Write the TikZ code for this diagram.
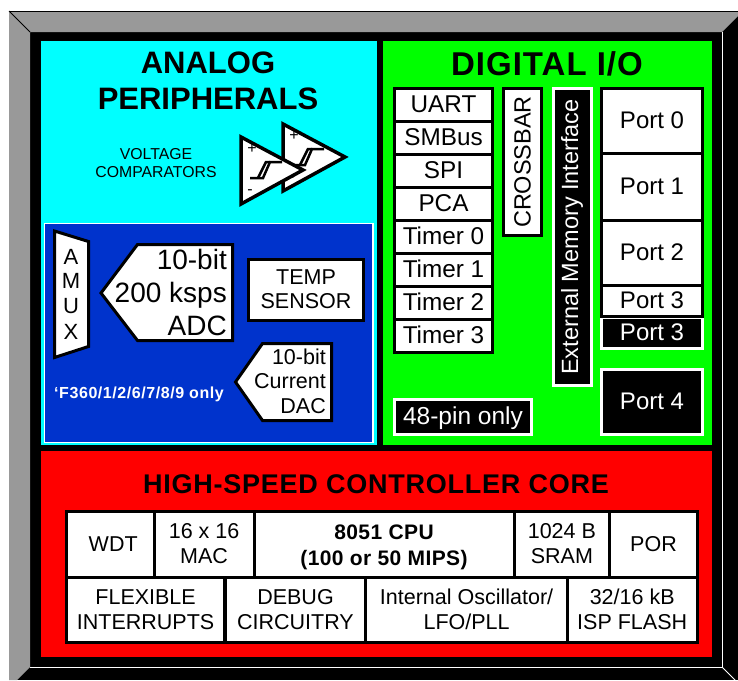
\documentclass[tikz,border=0pt]{standalone}
\usepackage{fontspec}
\setmainfont{Liberation Sans}
\usetikzlibrary{positioning}
\definecolor{panelcyan}{RGB}{0,255,255}
\definecolor{adcblue}{RGB}{0,51,204}
\tikzstyle{cell}=[rectangle,draw=black,line width=3pt,fill=white,inner sep=0pt,align=center]
\tikzstyle{darkcell}=[rectangle,draw=white,line width=3pt,fill=black,text=white,inner sep=0pt,align=center]
\tikzstyle{rowtext}=[text height=17pt,text depth=2pt]
\tikzstyle{block}=[draw=black,line width=3pt,fill=white,line join=miter]
\tikzstyle{caption}=[inner sep=0pt,align=center]
\tikzstyle{sign}=[inner sep=0pt,font=\fontsize{16}{18}\selectfont]
\newcommand{\fs}[2]{\fontsize{#1}{#2}\selectfont}
\newcommand{\spaced}[1]{\addfontfeature{LetterSpace=#1}}
\begin{document}
\begin{tikzpicture}[x=1pt,y=-1pt]
\useasboundingbox (0,0) rectangle (738,680);

%Frame
\fill[black] (9,11) rectangle (738,680);
\fill[black!40] (9,11) -- (738,11) -- (738,16) -- (722,32) -- (30,32) -- (30,667) -- (17,680) -- (9,680) -- cycle;
\draw[black,line width=0.8pt] (9,11) -- (738,11);
\draw[black,line width=0.8pt] (9,11) -- (30,32);
\draw[white,line width=0.8pt] (30,667) -- (722,667) -- (722,32);
\draw[white,line width=0.8pt] (722,667) -- (738,683);

%Panels
\fill[panelcyan] (41,41) rectangle (377,445);
\fill[green] (383,41) rectangle (712,445);
\fill[red] (41,451) rectangle (712,657);
\fill[adcblue,draw=white,line width=1.5pt] (44.5,223.5) rectangle (373,442.5);

%Titles
\node[caption,font=\bfseries\fs{31}{36}] (analog) at (208,81) {ANALOG\\PERIPHERALS};
\node[caption,font=\bfseries\fs{33}{38}\spaced{3}] (digital) at (547,64) {DIGITAL I/O};
\node[caption,font=\bfseries\fs{27}{32}\spaced{2.8}] (core) at (376,484) {HIGH-SPEED CONTROLLER CORE};
\node[caption,font=\fs{15.8}{18}] (volt) at (156,163) {VOLTAGE\\COMPARATORS};

%Comparators
\foreach \ox/\oy/\name in {42/-13/back, 0/0/front} {
  \begin{scope}[shift={(\ox,\oy)}]
    \draw[block,line width=3.5pt] (241,137) -- (303,170) -- (241,204) -- cycle;
    \draw[black,line width=2.5pt] (250,178) -- (263,178) -- (270,162) -- (282,162);
    \draw[black,line width=2.5pt] (258,178) -- (266,162) -- (270,162);
    \node[sign] (\name plus) at (252,149) {+};
    \node[sign] (\name minus) at (250,192) {-};
  \end{scope}
}

%Analog blocks
\draw[block] (54.5,231) -- (88.5,241.5) -- (88.5,346.5) -- (54.5,357.5) -- cycle;
\draw[block] (232.5,244.5) -- (137.5,244.5) -- (101,293) -- (137.5,340.5) -- (232.5,340.5) -- cycle;
\draw[block] (331.5,343.5) -- (262.5,343.5) -- (235.5,382) -- (262.5,420.5) -- (331.5,420.5) -- cycle;
\foreach \pos/\name/\label in {{(71,257)/mxa/A},{(71,281)/mxm/M},{(71,306)/mxu/U},{(71,332)/mxx/X}}
  \node[caption,font=\fs{22}{25}] (\name) at \pos {\label};
\node[caption,align=right,anchor=east,font=\fs{28}{33}] (adc) at (227,292) {10-bit\\200 ksps\\ADC};
\node[cell,minimum width=115pt,minimum height=61pt,font=\fs{21.5}{24}] (temp) at (306,289.5) {TEMP\\SENSOR};
\node[caption,align=right,anchor=east,font=\fs{21.5}{24.5}] (dac) at (326,381) {10-bit\\Current\\DAC};
\node[caption,text=white,font=\bfseries\fs{16}{18}\spaced{3.5}] (only) at (139,394) {‘F360/1/2/6/7/8/9 only};

%Digital I/O
\foreach \pos/\name/\label in {{(443.5,104.5)/uart/UART},{(443.5,137.5)/smbus/SMBus},{(443.5,170.5)/spi/SPI},{(443.5,203.5)/pca/PCA},{(443.5,236.5)/tzero/Timer 0},{(443.5,269.5)/tone/Timer 1},{(443.5,302.5)/ttwo/Timer 2},{(443.5,335.5)/tthree/Timer 3}}
  \node[cell,rowtext,minimum width=98pt,minimum height=33pt,font=\fs{24.3}{28}] (\name) at \pos {\label};
\node[cell,minimum width=38pt,minimum height=147pt,font=\fs{23.5}{28}] (xbar) at (522.5,162) {\rotatebox{90}{CROSSBAR}};
\node[darkcell,minimum width=38pt,minimum height=297pt,font=\fs{23.5}{28}] (emif) at (572,237) {\rotatebox{90}{External Memory Interface}};
\node[darkcell,rowtext,minimum width=101pt,minimum height=31pt,font=\fs{24}{28}] (pthreeb) at (652,333) {Port 3};
\foreach \pos/\name/\hgt/\label in {{(652,121.2)/pzero/65.5/Port 0},{(652,187.1)/pone/66.3/Port 1},{(652,253.1)/ptwo/65.7/Port 2},{(652,301.2)/pthree/30.5/Port 3}}
  \node[cell,rowtext,minimum width=101pt,minimum height=\hgt pt,font=\fs{24}{28}] (\name) at \pos {\label};
\node[darkcell,rowtext,minimum width=101pt,minimum height=65pt,font=\fs{24}{28}] (pfour) at (652,402) {Port 4};
\node[darkcell,rowtext,minimum width=137pt,minimum height=35pt,font=\fs{24.5}{28}] (pin) at (463,417) {48-pin only};

%Core
\foreach \pos/\name/\wid/\label in {{(110.2,544.7)/wdt/87.8/~WDT},{(204.1,544.7)/mac/99.8/{16 x 16\\MAC}},{(561.9,544.7)/sram/95.7/{1024 B\\SRAM}},{(653.5,544.7)/por/87.6/POR}}
  \node[cell,text depth=2pt,minimum width=\wid pt,minimum height=65.5pt,font=\fs{21.5}{25}] (\name) at \pos {\label};
\node[cell,minimum width=260pt,minimum height=65.5pt,font=\bfseries\fs{21}{26}\spaced{2}] (cpu) at (384,544.7) {\rule{0pt}{20pt}8051 CPU\\(100 or 50 MIPS)};
\foreach \pos/\name/\wid/\label in {{(145.6,610.2)/flex/158.7/{FLEXIBLE\\INTERRUPTS}},{(295.5,610.2)/debug/141/{DEBUG\\CIRCUITRY}},{(466.6,610.2)/osc/201.3/{Internal Oscillator/\\LFO/PLL}},{(632.2,610.2)/flash/130.2/{32/16 kB\\ISP FLASH}}}
  \node[cell,text depth=2pt,minimum width=\wid pt,minimum height=65.5pt,font=\fs{21.5}{25}] (\name) at \pos {\label};

\end{tikzpicture}
\end{document}
